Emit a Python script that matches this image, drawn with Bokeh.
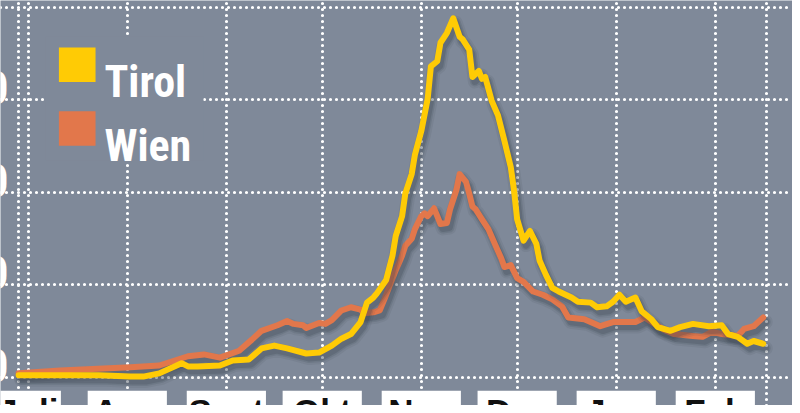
import numpy as np
import pandas as pd
from bokeh.plotting import figure
from bokeh.models import Range1d, FixedTicker
from bokeh.core.properties import value
from bokeh.embed import file_html
from bokeh.resources import INLINE

# ---------------- data ----------------
series_names = ["Tirol", "Wien"]

tirol_dates = ["2020-06-28", "2020-07-11", "2020-07-23", "2020-08-02", "2020-08-06", "2020-08-11",
               "2020-08-18", "2020-08-20", "2020-08-23", "2020-08-30", "2020-09-03", "2020-09-08",
               "2020-09-12", "2020-09-16", "2020-09-20", "2020-09-26", "2020-09-30", "2020-10-04",
               "2020-10-07", "2020-10-10", "2020-10-13", "2020-10-15", "2020-10-17", "2020-10-18",
               "2020-10-21", "2020-10-23", "2020-10-24", "2020-10-26", "2020-10-27", "2020-10-29",
               "2020-10-30", "2020-11-01", "2020-11-03", "2020-11-04", "2020-11-06", "2020-11-07",
               "2020-11-09", "2020-11-11", "2020-11-13", "2020-11-14", "2020-11-16", "2020-11-17",
               "2020-11-19", "2020-11-20", "2020-11-21", "2020-11-23", "2020-11-25", "2020-11-27",
               "2020-11-29", "2020-11-30", "2020-12-01", "2020-12-03", "2020-12-05", "2020-12-07",
               "2020-12-08", "2020-12-10", "2020-12-12", "2020-12-14", "2020-12-18", "2020-12-20",
               "2020-12-24", "2020-12-26", "2020-12-29", "2020-12-31", "2021-01-02", "2021-01-04",
               "2021-01-07", "2021-01-09", "2021-01-12", "2021-01-14", "2021-01-18", "2021-01-21",
               "2021-01-25", "2021-01-30", "2021-02-03", "2021-02-05", "2021-02-08", "2021-02-11",
               "2021-02-13", "2021-02-16"]
tirol_values = [4, 4, 4, 1, 1, 8, 30, 23, 23, 25,
                36, 38, 62, 68, 62, 51, 53, 68, 83, 93,
                119, 161, 172, 180, 210, 263, 305, 348, 397, 439,
                481, 532, 602, 672, 683, 723, 744, 776, 736, 730,
                708, 649, 662, 645, 649, 598, 566, 511, 454, 405,
                341, 295, 316, 288, 252, 221, 193, 185, 172, 163,
                161, 151, 153, 163, 178, 163, 172, 142, 125, 108,
                100, 108, 115, 110, 112, 93, 87, 72, 78, 72]

wien_dates = ["2020-06-28", "2020-07-11", "2020-08-02", "2020-08-11", "2020-08-20", "2020-08-25",
              "2020-08-30", "2020-09-05", "2020-09-09", "2020-09-12", "2020-09-17", "2020-09-20",
              "2020-09-22", "2020-09-25", "2020-09-26", "2020-09-30", "2020-10-02", "2020-10-04",
              "2020-10-07", "2020-10-10", "2020-10-13", "2020-10-14", "2020-10-17", "2020-10-19",
              "2020-10-21", "2020-10-23", "2020-10-24", "2020-10-26", "2020-10-27", "2020-10-29",
              "2020-10-30", "2020-11-01", "2020-11-02", "2020-11-03", "2020-11-05", "2020-11-06",
              "2020-11-07", "2020-11-09", "2020-11-10", "2020-11-12", "2020-11-13", "2020-11-15",
              "2020-11-16", "2020-11-17", "2020-11-18", "2020-11-20", "2020-11-22", "2020-11-24",
              "2020-11-26", "2020-11-27", "2020-11-29", "2020-12-01", "2020-12-03", "2020-12-06",
              "2020-12-09", "2020-12-12", "2020-12-15", "2020-12-17", "2020-12-22", "2020-12-27",
              "2020-12-31", "2021-01-07", "2021-01-10", "2021-01-13", "2021-01-16", "2021-01-19",
              "2021-01-25", "2021-01-28", "2021-01-31", "2021-02-03", "2021-02-08", "2021-02-10",
              "2021-02-13", "2021-02-16"]
wien_values = [8, 14, 21, 25, 45, 49, 42, 57, 81, 100,
               112, 121, 115, 112, 106, 117, 115, 123, 144, 151,
               146, 138, 140, 144, 178, 214, 231, 263, 284, 299,
               320, 348, 354, 348, 365, 348, 331, 333, 363, 405,
               439, 422, 397, 369, 363, 341, 320, 288, 257, 238,
               242, 214, 206, 185, 178, 168, 153, 129, 125, 110,
               119, 119, 129, 115, 102, 93, 89, 87, 98, 93,
               89, 104, 110, 129]

month_labels = ["Juli", "Aug", "Sept", "Okt", "Nov", "Dez", "Jan", "Feb"]
month_starts = ["2020-07-01", "2020-08-01", "2020-09-01", "2020-10-01",
                "2020-11-01", "2020-12-01", "2021-01-01", "2021-02-01"]
x_grid_extra = ["2020-06-28", "2021-02-17"]
y_ticks = [0, 200, 400, 600, 800]
y_tick_labels = ["0", "200", "400", "600"]

# ---------------- style ----------------
BG = "#7f8999"
COLORS = ["#ffcb05", "#e2774b"]
SHADOW = "#3a4250"
FONT_COND = "Liberation Sans Narrow, Roboto Condensed, DejaVu Sans Condensed, Roboto"
FONT_BOLD = "Liberation Sans"

W, H = 792, 405          # figure size (page margin is 8 px)
REF_W, REF_H = 800, 413  # layout below is measured in reference pixels
DAY_MS = 86400000.0
DAY_PX = 3.228           # horizontal scale (reference px per day)
UNIT_PER_PX = 200 / 94.3 # vertical scale (value per reference px)
X_REF_PX = 28            # reference x of 1 July
Y_ZERO_PX = 384          # reference y of value 0


def to_ms(dates):
    return pd.to_datetime(dates).values.astype("datetime64[ms]").astype("int64").astype(float)


T0 = to_ms(["2020-07-01"])[0]


def px_x(sx):  # reference pixel -> data x
    return T0 + (sx - X_REF_PX) / DAY_PX * DAY_MS


def px_y(sy):  # reference pixel -> data y
    return (Y_ZERO_PX - sy) * UNIT_PER_PX


dx_px = lambda n: n / DAY_PX * DAY_MS
dy_px = lambda n: n * UNIT_PER_PX

p = figure(width=W, height=H, x_axis_type="datetime", output_backend="svg",
           toolbar_location=None,
           x_range=Range1d(px_x(0), px_x(REF_W)), y_range=Range1d(px_y(REF_H), px_y(0)),
           min_border=0, background_fill_color=BG, border_fill_color=BG,
           outline_line_color=None)
p.xaxis.visible = False
p.yaxis.visible = False

p.xgrid.ticker = FixedTicker(ticks=sorted(list(to_ms(month_starts)) + list(to_ms(x_grid_extra))))
p.ygrid.ticker = FixedTicker(ticks=y_ticks)
for g in (p.xgrid, p.ygrid):
    g.grid_line_color = "white"
    g.grid_line_width = 3.2
    g.grid_line_dash = "0 6"
    g.grid_line_cap = "round"
    g.grid_line_alpha = 1.0

# ---------------- lines with soft drop shadow ----------------
series = [(to_ms(tirol_dates), np.array(tirol_values, float)),
          (to_ms(wien_dates), np.array(wien_values, float))]
for idx in (1, 0):
    xs, ys = series[idx]
    for w, a in ((14, 0.10), (10, 0.16), (7, 0.24)):
        p.line(xs + dx_px(2.5), ys - dy_px(4.5), line_width=w, line_color=SHADOW,
               line_alpha=a, line_join="round", line_cap="round")
    p.line(xs, ys, line_width=6, line_color=COLORS[idx],
           line_join="round", line_cap="round")

# ---------------- legend ----------------
p.quad(left=[px_x(45)], right=[px_x(205)], top=[px_y(37)], bottom=[px_y(163)],
       fill_color=BG, line_color=None)
row_top = [48, 113]
p.quad(left=[px_x(59)] * 2, right=[px_x(96)] * 2,
       top=[px_y(t) for t in row_top], bottom=[px_y(t + 35) for t in row_top],
       fill_color=COLORS, line_color=None)
p.text(x=[px_x(105)] * 2, y=[px_y(t + 35) for t in row_top], text=series_names,
       text_color="white", text_font=value(FONT_COND), text_font_style="bold",
       text_font_size="44px", text_baseline="alphabetic", text_align="left")

# ---------------- y labels (cut off at the left edge) ----------------
p.text(x=[px_x(8)] * len(y_tick_labels),
       y=[t + dy_px(12) for t in y_ticks[:len(y_tick_labels)]],
       text=y_tick_labels, text_color="white", text_font=value(FONT_COND),
       text_font_style="bold", text_font_size="46px", text_baseline="alphabetic",
       text_align="right")

# ---------------- month labels in white boxes (cut off at the bottom) ----------------
centers = to_ms(month_starts)
box_left = centers - dx_px(40)
box_right = centers + dx_px(40)
box_right[0] = centers[0] + dx_px(33)
p.quad(left=box_left, right=box_right, top=[px_y(398)] * len(centers),
       bottom=[px_y(440)] * len(centers), fill_color="white", line_color=None)
p.text(x=centers, y=[px_y(399)] * len(centers), text=month_labels,
       text_color="#111111", text_font=value(FONT_BOLD), text_font_style="bold",
       text_font_size="35px", text_baseline="top", text_align="center")

open("out.html", "w").write(file_html(p, INLINE))
